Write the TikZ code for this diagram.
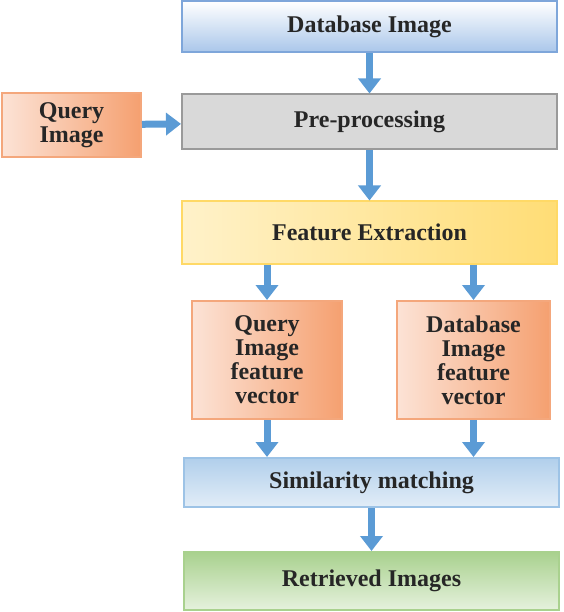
\documentclass[tikz,border=0pt]{standalone}
\usepackage{fontspec}
\setmainfont{Liberation Serif}
\usetikzlibrary{positioning, arrows.meta}
\definecolor{arrowblue}{HTML}{5B9BD5}
\definecolor{dbline}{HTML}{7EA6DA}
\definecolor{dbfill}{HTML}{A9C6EA}
\definecolor{preline}{HTML}{9A9A9A}
\definecolor{oline}{HTML}{F4A77C}
\definecolor{ofill}{HTML}{F5A070}
\definecolor{olight}{HTML}{FCE3D6}
\definecolor{yline}{HTML}{FFD966}
\definecolor{smline}{HTML}{9DC3E6}
\definecolor{gline}{HTML}{A9D18E}
\tikzset{
    x=1pt, y=1pt,
    node distance=40pt, % gap between the boxes of the main column
    box/.style={draw, line width=2pt, inner sep=2pt, align=center,
        font=\fontsize{24}{24}\selectfont\bfseries, text=black!85},
    wide/.style={box, minimum width=375pt}, % boxes of the main column
    flow/.style={line width=7pt, arrowblue,
        -{Triangle[width=22pt,length=15pt]}}, % thick blue arrows
    }

\begin{document}
\begin{tikzpicture}
    \useasboundingbox (0,0) rectangle (563,-612);
    \node[wide, minimum height=51pt, draw=dbline, top color=white, bottom color=dbfill]
        (db) at (369.5,-27) {Database Image};
    \node[wide, minimum height=55pt, below=40pt of db, draw=preline,
        top color=gray!30, middle color=gray!70, bottom color=gray!30] (pre) {Pre-processing};
    \node[box, minimum width=139pt, minimum height=64pt, draw=oline,
        left color=olight, right color=ofill] (query) at (71.5,-125) {Query\\Image};
    \node[wide, minimum height=62pt, below=50pt of pre, draw=yline,
        left color=yline!35, right color=yline!90] (fe) {Feature Extraction};
    \node[box, minimum width=150pt, minimum height=118pt, draw=oline,
        left color=olight, right color=ofill] (qfv) at (267,-360) {Query\\Image\\feature\\vector};
    \node[box, minimum width=153pt, minimum height=118pt, draw=oline,
        left color=olight, right color=ofill] (dfv) at (473.5,-360) {Database\\Image\\feature\\vector};
    \node[wide, minimum width=375pt, minimum height=49pt, draw=smline,
        top color=smline!80, bottom color=smline!30] (sm) at (371.5,-482.5) {Similarity matching};
    \node[wide, minimum height=58pt, below=43pt of sm, draw=gline,
        top color=gline, bottom color=gline!30] (ri) {Retrieved Images};
    % connectors
    \draw[flow] (db) -- (pre);
    \draw[flow] (query) -- (pre);
    \draw[flow] (pre) -- (fe);
    \draw[flow] (qfv.north |- fe.south) -- (qfv);
    \draw[flow] (dfv.north |- fe.south) -- (dfv);
    \draw[flow] (qfv) -- (qfv.south |- sm.north);
    \draw[flow] (dfv) -- (dfv.south |- sm.north);
    \draw[flow] (sm) -- (ri);
\end{tikzpicture}
\end{document}
